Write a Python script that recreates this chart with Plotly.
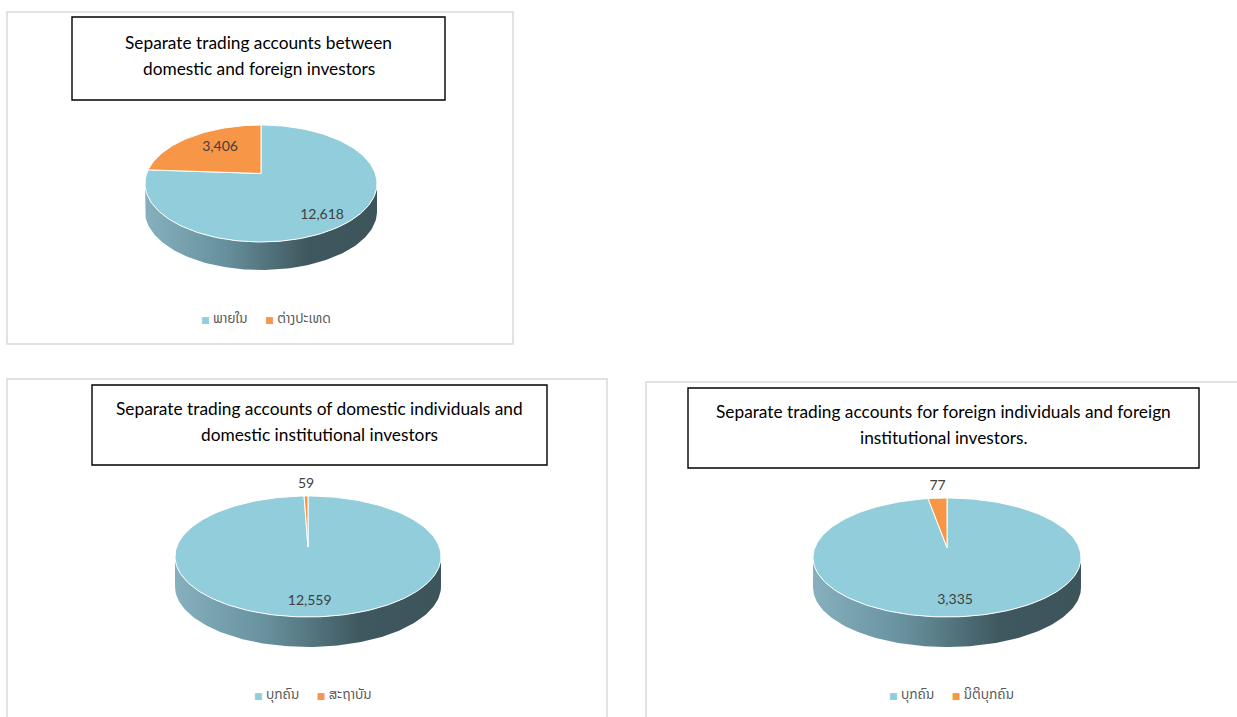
import numpy as np
import plotly.graph_objects as go

# ---------------- data ----------------
TITLES = [
    ["Separate trading accounts between", "domestic and foreign investors"],
    ["Separate trading accounts of domestic individuals and", "domestic institutional investors"],
    ["Separate trading accounts for foreign individuals and foreign", "institutional investors."],
]
LABELS_1 = ["ພາຍໃນ", "ຕ່າງປະເທດ"]
VALUES_1 = [12618, 3406]
LABELS_2 = ["ບຸກຄົນ", "ສະຖາບັນ"]
VALUES_2 = [12559, 59]
LABELS_3 = ["ບຸກຄົນ", "ນິຕິບຸກຄົນ"]
VALUES_3 = [3335, 77]
SERIES = [(LABELS_1, VALUES_1), (LABELS_2, VALUES_2), (LABELS_3, VALUES_3)]

COLORS = ["#92CDDC", "#F79646"]

# ---------------- layout geometry (pixels) ----------------
W, H = 1237, 717
PANELS = [
    dict(frame=(7, 12, 513, 344), box=(72, 17, 445, 100),
         cx=261, cy=183.5, rx=116, ry=58.5, depth=28, voff=10, legend_x=266, legend_y=318),
    dict(frame=(7, 379, 607, 722), box=(92, 385, 547, 465),
         cx=308, cy=556.5, rx=133, ry=60.5, depth=30, voff=9.5, legend_x=313, legend_y=694),
    dict(frame=(646, 382, 1242, 722), box=(688, 388, 1199, 468),
         cx=947, cy=557.5, rx=134, ry=59.5, depth=30, voff=10, legend_x=951, legend_y=694),
]
SIDE_SCALE = [[0, "#86B0BE"], [0.35, "#66909C"], [0.7, "#3F575E"], [1, "#3D545B"]]
FONT_TXT = "Lato, 'Open Sans', sans-serif"
FONT_LAO = "'Noto Sans Lao', 'DejaVu Sans', sans-serif"

fig = go.Figure()
shapes = []
annotations = []


def ell(p, t, dy=0.0):
    # t: angle clockwise from 12 o'clock (radians)
    return p["cx"] + p["rx"] * np.sin(t), p["cy"] - p["ry"] * np.cos(t) + dy


for i, (p, (labels, values)) in enumerate(zip(PANELS, SERIES)):
    fx0, fy0, fx1, fy1 = p["frame"]
    shapes.append(dict(type="rect", xref="x", yref="y", x0=fx0, y0=fy0, x1=fx1, y1=fy1,
                       line=dict(color="#D9D9D9", width=1.5), fillcolor="rgba(0,0,0,0)", layer="below"))
    bx0, by0, bx1, by1 = p["box"]
    shapes.append(dict(type="rect", xref="x", yref="y", x0=bx0, y0=by0, x1=bx1, y1=by1,
                       line=dict(color="#000000", width=1.4), fillcolor="white"))
    ymid = (by0 + by1) / 2 - 3.5
    for k, line_txt in enumerate(TITLES[i]):
        annotations.append(dict(x=(bx0 + bx1) / 2, y=ymid + (k - 0.5) * 26, xref="x", yref="y",
                                text=line_txt, showarrow=False, align="center",
                                font=dict(family=FONT_TXT, size=17.3, color="#000000")))

    # side wall (front half of the cylinder)
    t = np.linspace(np.pi / 2, 3 * np.pi / 2, 120)
    xt, yt = ell(p, t)
    xb, yb = ell(p, t[::-1], p["depth"])
    fig.add_trace(go.Scatter(
        x=np.concatenate([xt, xb, xt[:1]]), y=np.concatenate([yt, yb, yt[:1]]),
        mode="lines", fill="toself", line=dict(width=0, color="rgba(0,0,0,0)"),
        fillgradient=dict(type="horizontal", colorscale=SIDE_SCALE),
        hoverinfo="skip", showlegend=False))

    # top face slices
    vals = np.array(values, dtype=float)
    total = vals.sum()
    starts = np.concatenate([[0], np.cumsum(vals)[:-1]]) / total * 2 * np.pi
    ends = np.cumsum(vals) / total * 2 * np.pi
    vx, vy = p["cx"], p["cy"] - p["voff"]
    for j, (a0, a1) in enumerate(zip(starts, ends)):
        n = max(4, int((a1 - a0) / (2 * np.pi) * 240))
        ta = np.linspace(a0, a1, n)
        ax_, ay_ = ell(p, ta)
        fig.add_trace(go.Scatter(
            x=np.concatenate([[vx], ax_, [vx]]), y=np.concatenate([[vy], ay_, [vy]]),
            mode="lines", fill="toself", fillcolor=COLORS[j],
            line=dict(color="white", width=1), hoverinfo="skip", showlegend=False))
        share = vals[j] / total
        mid = (a0 + a1) / 2
        if share > 0.1:
            f = 0.85 if share > 0.5 else 0.57
            lx = vx + f * p["rx"] * np.sin(mid)
            ly = vy - f * p["ry"] * np.cos(mid) + (3 if share > 0.5 else 0)
        else:
            lx, ly = ell(p, mid, -12)
        fig.add_trace(go.Scatter(
            x=[lx], y=[ly], mode="text", text=[f"{values[j]:,}"],
            textfont=dict(family=FONT_TXT, size=14, color="#404040"),
            hoverinfo="skip", showlegend=False))

    # legend (square markers + category names)
    parts = [f"<span style='color:{COLORS[j]};font-size:9px'>■</span> {labels[j]}" for j in range(len(labels))]
    annotations.append(dict(x=p["legend_x"], y=p["legend_y"], xref="x", yref="y",
                            text="     ".join(parts), showarrow=False, xanchor="center", yanchor="middle",
                            font=dict(family=FONT_LAO, size=13.5, color="#595959")))

fig.update_layout(
    width=W, height=H, margin=dict(l=0, r=0, t=0, b=0),
    paper_bgcolor="white", plot_bgcolor="white",
    xaxis=dict(range=[0, W], visible=False, fixedrange=True),
    yaxis=dict(range=[H, 0], visible=False, fixedrange=True),
    shapes=shapes, annotations=annotations, showlegend=False,
)

fig.write_html("out.html")
